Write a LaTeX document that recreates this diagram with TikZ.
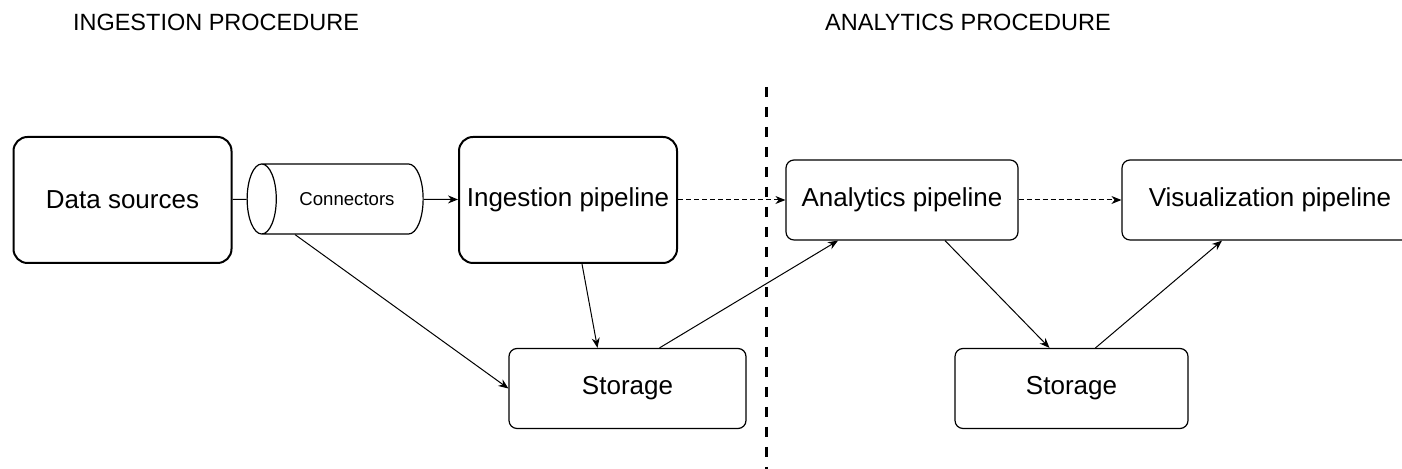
\documentclass[tikz,border=0pt]{standalone}
\usepackage{fontspec}
\setmainfont{Liberation Sans}
\usetikzlibrary{arrows.meta,shapes.geometric}

\begin{document}
\begin{tikzpicture}[x=0.5pt, y=0.5pt,
        block/.style={draw=black, fill=white, rounded corners=7pt, line width=1pt, minimum width=109pt, minimum height=63pt, align=center, font=\fontsize{13}{15}\selectfont},
        stage/.style={draw=black, fill=white, rounded corners=4pt, line width=0.6pt, minimum height=40pt, align=center, font=\fontsize{13}{15}\selectfont},
        pipe/.style={cylinder, shape border rotate=180, draw=black, fill=white, line width=0.6pt, aspect=1.1, minimum width=35pt, minimum height=88pt, font=\fontsize{9.3}{11}\selectfont},
        title/.style={font=\fontsize{11.75}{14}\selectfont},
        arrow/.style={-{Stealth[length=5pt,width=4pt]}, line width=0.5pt},
        flow/.style={arrow, dash pattern=on 2.5pt off 1.5pt},
        divider/.style={line width=1.5pt, dash pattern=on 5pt off 5pt}
    ]
    \clip (0,0) rectangle (1402,469);
    \node[title] (ingtitle) at (216,447) {INGESTION PROCEDURE};
    \node[title] (anatitle) at (968,447) {ANALYTICS PROCEDURE};
    \coordinate (divtop) at (766,382);
    \coordinate (divbot) at (766,0);
    \draw[divider] (divtop) -- (divbot);
    \node[block] (sources) at (122.5,269) {Data sources};
    \node[pipe] (conn) at (347,270) {Connectors};
    \node[block] (ingest) at (568,269) {Ingestion pipeline};
    \node[stage, minimum width=116pt] (analytics) at (902,269) {Analytics pipeline};
    \node[stage, minimum width=148pt] (visual) at (1270,269) {Visualization pipeline};
    \node[stage, minimum width=118.5pt] (store) at (627.5,80.5) {Storage};
    \node[stage, minimum width=116.5pt] (viewstore) at (1071.5,80.5) {Storage};
    \draw[line width=0.5pt] (sources) -- (conn);
    \draw[arrow] (conn) -- (ingest);
    \draw[arrow] ([xshift=-26pt]conn.south) -- (store.west);
    \draw[arrow] ([xshift=7pt]ingest.south) -- ([xshift=-15pt]store.north);
    \draw[arrow] ([xshift=16pt]store.north) -- ([xshift=-32pt]analytics.south);
    \draw[flow] (ingest) -- (analytics);
    \draw[flow] (analytics) -- (visual);
    \draw[arrow] ([xshift=21.5pt]analytics.south) -- ([xshift=-11pt]viewstore.north);
    \draw[arrow] ([xshift=12pt]viewstore.north) -- ([xshift=-24pt]visual.south);
\end{tikzpicture}
\end{document}
